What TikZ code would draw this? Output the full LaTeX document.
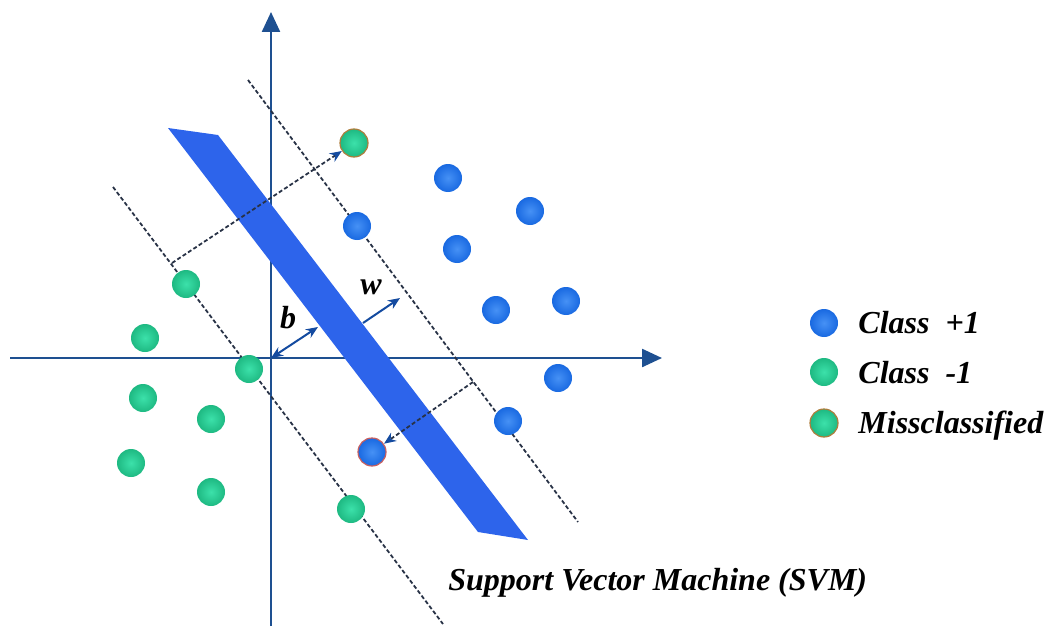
\documentclass[tikz,border=0pt]{standalone}
\usepackage{fontspec}
\setmainfont{Liberation Serif}
\usetikzlibrary{arrows.meta,calc}
\definecolor{bandblue}{RGB}{45,100,235}
\definecolor{axisblue}{RGB}{30,80,145}
\definecolor{tipblue}{RGB}{20,75,160}
\definecolor{dashgray}{RGB}{40,50,70}
\definecolor{posin}{RGB}{70,145,245}
\definecolor{posout}{RGB}{25,105,225}
\definecolor{negin}{RGB}{60,225,170}
\definecolor{negout}{RGB}{30,185,130}
\tikzset{
  >=Stealth,
  plusdot/.style={circle,inner sep=0pt,minimum size=14pt,shading=radial,inner color=posin,outer color=posout},
  minusdot/.style={circle,inner sep=0pt,minimum size=14pt,shading=radial,inner color=negin,outer color=negout},
  axis/.style={-{Triangle[length=10pt,width=9pt]},line width=1.2pt,draw=axisblue},
  margin/.style={dash pattern=on 2pt off 1.2pt,line width=0.9pt,draw=dashgray},
  lbl/.style={font=\fontsize{16}{18}\selectfont\bfseries\itshape,inner sep=0pt},
}

\begin{document}
\begin{tikzpicture}[x=0.5pt,y=-0.5pt]
\useasboundingbox (0,0) rectangle (1054,626);

% axes
\coordinate (o) at (271,358);
\coordinate (xs) at (10,358);
\coordinate (xe) at (662,358);
\coordinate (ys) at (271,626);
\coordinate (ye) at (271,12);
\draw[axis] (xs) -- (xe);
\draw[axis] (ys) -- (ye);

% hyperplane
\fill[bandblue] (168,128) -- (218,135) -- (528,540) -- (478,532) -- cycle;

% margins
\coordinate (m1a) at (248,80);
\coordinate (m1b) at (578,522);
\coordinate (m2a) at (113,187);
\coordinate (m2b) at (443,624);
\draw[margin] (m1a) -- (m1b);
\draw[margin] (m2a) -- (m2b);

% class +1
\node[plusdot] (p1) at (448,178) {};
\node[plusdot] (p2) at (530,211) {};
\node[plusdot] (p3) at (357,226) {};
\node[plusdot] (p4) at (457,249) {};
\node[plusdot] (p5) at (496,310) {};
\node[plusdot] (p6) at (566,301) {};
\node[plusdot] (p7) at (558,378) {};
\node[plusdot] (p8) at (508,421) {};
\node[plusdot,draw={rgb,255:red,200;green,95;blue,95},line width=0.6pt] (pm) at (372,452) {};

% class -1
\node[minusdot] (n1) at (186,284) {};
\node[minusdot] (n2) at (145,338) {};
\node[minusdot] (n3) at (249,369) {};
\node[minusdot] (n4) at (143,398) {};
\node[minusdot] (n5) at (211,419) {};
\node[minusdot] (n6) at (131,463) {};
\node[minusdot] (n7) at (211,492) {};
\node[minusdot] (n8) at (351,509) {};
\node[minusdot,draw={rgb,255:red,175;green,125;blue,60},line width=0.6pt] (nm) at (354,143) {};

% distances to the misclassified points
\coordinate (d1) at (172,263);
\coordinate (d2) at (473,382);
\draw[margin,-{Stealth[length=6pt,width=5pt,color=tipblue]}] (d1) -- (nm);
\draw[margin,-{Stealth[length=6pt,width=5pt,color=tipblue]}] (d2) -- (pm);

% b and w
\coordinate (bt) at (318,327);
\coordinate (ws) at (363,323);
\coordinate (we) at (400,298);
\draw[{Stealth[length=6pt,width=5pt]}-{Stealth[length=6pt,width=5pt]},line width=1pt,tipblue] (o) -- (bt);
\draw[-{Stealth[length=6pt,width=5pt]},line width=1pt,tipblue] (ws) -- (we);
\node[lbl] (b) at (288,318) {b};
\node[lbl] (w) at (371,287) {w};

% legend
\node[plusdot] (lp) at (824,323) {};
\node[minusdot] (ln) at (824,372) {};
\node[minusdot,draw={rgb,255:red,175;green,125;blue,60},line width=0.6pt] (lm) at (824,423) {};
\node[lbl,anchor=base west] (tp) at (858,333) {Class\ \ +1};
\node[lbl,anchor=base west] (tn) at (858,383) {Class\ \ -1};
\node[lbl,anchor=base west] (tm) at (858,433) {Missclassified};

\node[lbl,anchor=base west] (title) at (448,590) {Support Vector Machine (SVM)};
\end{tikzpicture}
\end{document}
